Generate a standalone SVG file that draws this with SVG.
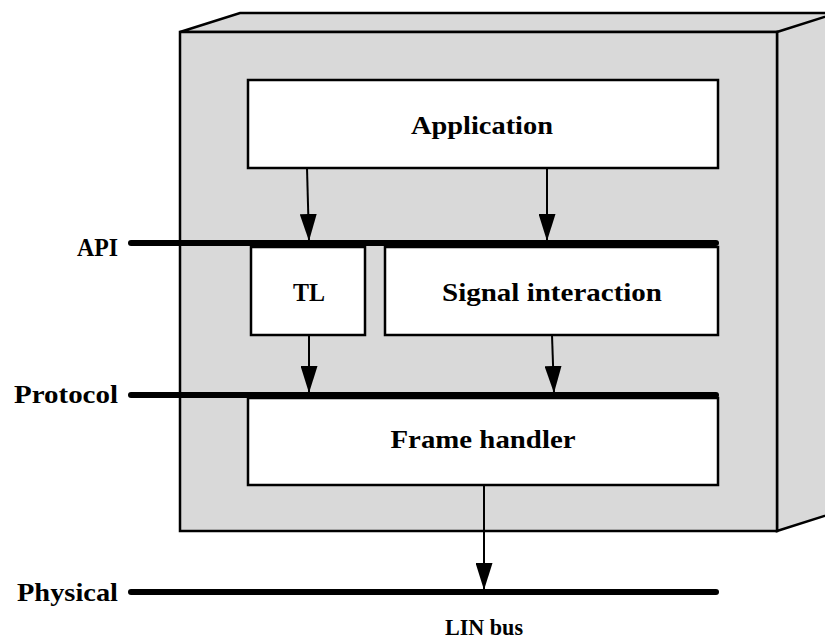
<svg xmlns="http://www.w3.org/2000/svg" width="825" height="641" viewBox="0 0 825 641">
<defs>
<style>
.face{fill:#d9d9d9;stroke:#000;stroke-width:2.5;stroke-linejoin:miter}
.box{fill:#fff;stroke:#000;stroke-width:2.5}
.bus{stroke:#000;stroke-width:6;stroke-linecap:round;fill:none}
.conn{stroke:#000;stroke-width:2;fill:none}
text{font-family:"Liberation Serif","Times New Roman",serif;font-weight:bold;font-size:25px;fill:#000}
.c{text-anchor:middle}
.r{text-anchor:end}
</style>
<marker id="ah" viewBox="0 0 27 17" refX="27" refY="8.5" markerWidth="27" markerHeight="17" markerUnits="userSpaceOnUse" orient="auto">
<path d="M0,0 L27,8.5 L0,17 Z" fill="#000"/>
</marker>
</defs>
<g id="housing">
<polygon class="face" points="180,32 240,13 840,13 780,32"/>
<polygon class="face" points="777,32 837,13 837,512 777,531"/>
<rect class="face" x="180" y="32" width="597" height="499"/>
</g>
<g id="buses">
<line class="bus" x1="131" y1="243" x2="716" y2="243"/>
<line class="bus" x1="131" y1="395" x2="716" y2="395"/>
<line class="bus" x1="131" y1="592" x2="716" y2="592"/>
<text class="r" x="118" y="256" textLength="41" lengthAdjust="spacingAndGlyphs">API</text>
<text class="r" x="118" y="403" textLength="104" lengthAdjust="spacingAndGlyphs">Protocol</text>
<text class="r" x="118" y="601" textLength="101" lengthAdjust="spacingAndGlyphs">Physical</text>
<text class="c" x="484" y="635" style="font-size:23px" textLength="78" lengthAdjust="spacingAndGlyphs">LIN bus</text>
</g>
<g id="application">
<rect class="box" x="248" y="80" width="470" height="88"/>
<text class="c" x="482" y="134" textLength="142" lengthAdjust="spacingAndGlyphs">Application</text>
</g>
<g id="tl">
<rect class="box" x="251" y="247" width="114" height="88"/>
<text class="c" x="309" y="301" textLength="32" lengthAdjust="spacingAndGlyphs">TL</text>
</g>
<g id="signal">
<rect class="box" x="385" y="247" width="333" height="88"/>
<text class="c" x="552" y="301" textLength="220" lengthAdjust="spacingAndGlyphs">Signal interaction</text>
</g>
<g id="frame">
<rect class="box" x="248" y="398" width="470" height="87"/>
<text class="c" x="483" y="448" textLength="185" lengthAdjust="spacingAndGlyphs">Frame handler</text>
</g>
<g id="connectors">
<line class="conn" x1="307" y1="168" x2="309" y2="241" marker-end="url(#ah)"/>
<line class="conn" x1="547" y1="168" x2="547" y2="241" marker-end="url(#ah)"/>
<line class="conn" x1="309" y1="335" x2="309" y2="393" marker-end="url(#ah)"/>
<line class="conn" x1="552" y1="335" x2="554" y2="393" marker-end="url(#ah)"/>
<line class="conn" x1="484" y1="485" x2="484" y2="590" marker-end="url(#ah)"/>
</g>
</svg>
